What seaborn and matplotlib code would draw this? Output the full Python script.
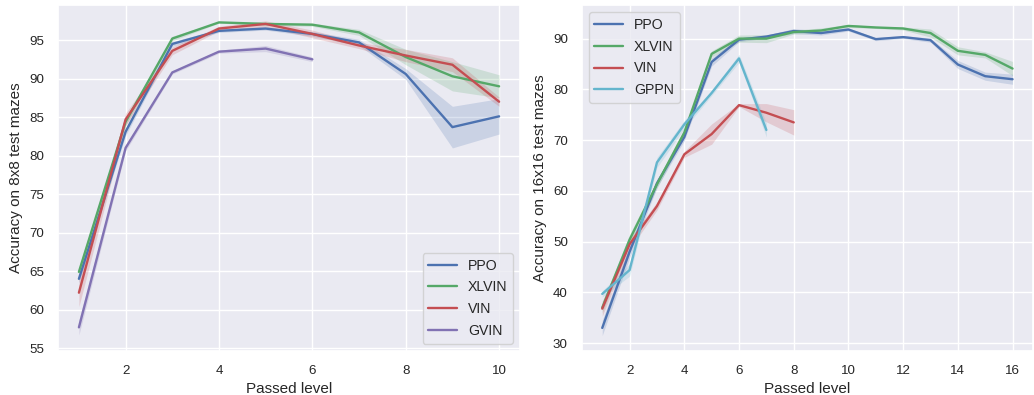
import numpy as np
import pandas as pd
import matplotlib.pyplot as plt
import seaborn as sns

# 8x8 mazes, levels 1..10
levels8 = [1, 2, 3, 4, 5, 6, 7, 8, 9, 10]
ppo8 = [64.0, 83.1, 94.5, 96.2, 96.5, 95.8, 94.7, 90.6, 83.7, 85.1]
ppo8_err = [0.5, 0.5, 0.3, 0.2, 0.2, 0.3, 0.4, 0.7, 2.7, 2.3]
xlvin8 = [64.9, 84.4, 95.2, 97.3, 97.1, 97.0, 96.0, 92.8, 90.3, 89.0]
xlvin8_err = [0.6, 0.5, 0.3, 0.1, 0.2, 0.2, 0.4, 1.0, 1.9, 1.5]
vin8 = [62.2, 84.7, 93.6, 96.5, 97.1, 95.8, 94.3, 93.0, 91.8, 87.0]
vin8_err = [1.8, 0.8, 0.5, 0.3, 0.4, 0.5, 0.4, 0.8, 0.9, 0.6]
gvin8 = [57.7, 81.0, 90.8, 93.5, 93.9, 92.5]
gvin8_err = [1.0, 0.4, 0.2, 0.2, 0.4, 0.3]

# 16x16 mazes, levels 1..16
levels16 = list(range(1, 17))
ppo16 = [33.0, 48.0, 61.5, 70.6, 85.4, 89.8, 90.4, 91.5, 91.1, 91.8,
         89.9, 90.3, 89.7, 84.9, 82.6, 82.0]
ppo16_err = [1.5, 1.2, 0.8, 0.7, 0.8, 0.4, 0.3, 0.5, 0.4, 0.3,
             0.3, 0.3, 0.4, 0.8, 0.8, 1.0]
xlvin16 = [37.0, 50.4, 61.3, 71.5, 87.0, 90.0, 90.0, 91.3, 91.6, 92.5,
           92.2, 92.0, 91.1, 87.6, 86.8, 84.1]
xlvin16_err = [1.0, 1.0, 0.8, 0.6, 0.6, 0.7, 0.8, 0.4, 0.5, 0.3,
               0.2, 0.3, 0.8, 0.8, 0.6, 1.4]
vin16 = [36.8, 49.5, 57.0, 67.2, 71.2, 76.9, 75.4, 73.5]
vin16_err = [1.5, 1.0, 0.8, 0.6, 2.0, 0.3, 1.8, 2.5]
gppn16 = [39.7, 44.4, 65.6, 73.1, 79.3, 86.1, 72.0]
gppn16_err = [0.6, 1.2, 1.0, 0.8, 0.5, 0.8, 1.4]

sns.set_theme(style="darkgrid")
plt.rcParams['font.family'] = ['Liberation Sans', 'DejaVu Sans']
pal = sns.color_palette("deep6")
colors = {'PPO': pal[0], 'XLVIN': pal[1], 'VIN': pal[2], 'GVIN': pal[3], 'GPPN': pal[5]}


def tidy(series, levels):
    rows = []
    for name, (mean, err) in series.items():
        for i in range(len(mean)):
            rows.append({'level': levels[i], 'acc': mean[i], 'err': err[i], 'method': name})
    return pd.DataFrame(rows)


def panel(ax, df, ylabel, legend_loc):
    sns.lineplot(data=df, x='level', y='acc', hue='method', palette=colors,
                 errorbar=None, ax=ax, linewidth=1.7)
    for name, d in df.groupby('method', sort=False):
        ax.fill_between(d['level'], d['acc'] - d['err'], d['acc'] + d['err'],
                        color=colors[name], alpha=0.2, linewidth=0)
    ax.set_xlabel('Passed level', fontsize=11)
    ax.set_ylabel(ylabel, fontsize=11)
    ax.tick_params(labelsize=9.6, pad=4)
    ax.legend(loc=legend_loc, fontsize=10.2, title=None, labelspacing=0.55)


df8 = tidy({'PPO': (ppo8, ppo8_err), 'XLVIN': (xlvin8, xlvin8_err),
            'VIN': (vin8, vin8_err), 'GVIN': (gvin8, gvin8_err)}, levels8)
df16 = tidy({'PPO': (ppo16, ppo16_err), 'XLVIN': (xlvin16, xlvin16_err),
             'VIN': (vin16, vin16_err), 'GPPN': (gppn16, gppn16_err)}, levels16)

fig = plt.figure(figsize=(10.34, 3.95), dpi=100)
ax1 = fig.add_axes([0.056, 0.112, 0.447, 0.875])
ax2 = fig.add_axes([0.5626, 0.112, 0.4365, 0.875])

panel(ax1, df8, 'Accuracy on 8x8 test mazes', 'lower right')
panel(ax2, df16, 'Accuracy on 16x16 test mazes', 'upper left')
ax2.set_ylim(28.5, 96.6)

fig.savefig('out.png', dpi=100)
